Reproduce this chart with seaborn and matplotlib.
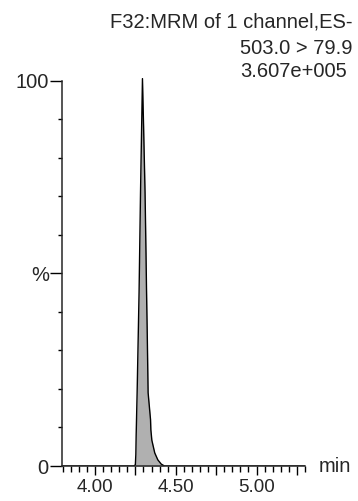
import numpy as np
import pandas as pd
import matplotlib
matplotlib.use("Agg")
import matplotlib.pyplot as plt
import seaborn as sns
from matplotlib.ticker import MultipleLocator, FixedLocator, FixedFormatter

# chromatogram trace (time in min, intensity in %)
times = [3.80, 4.240, 4.250, 4.253, 4.255, 4.261, 4.273, 4.282, 4.294,
         4.301, 4.310, 4.316, 4.319, 4.323, 4.329, 4.344, 4.346, 4.352,
         4.370, 4.389, 4.410, 4.430, 5.30]
intensity = [0, 0, 0.3, 3, 8, 19, 45, 71, 100.5,
             88, 71, 55, 46, 36, 19, 12, 9.4, 6.7,
             3.4, 1.6, 0.5, 0, 0]

header_lines = ["F32:MRM of 1 channel,ES-", "503.0 > 79.9", "3.607e+005"]
y_tick_pos = [0, 50, 100]
y_tick_text = ["0", "%", "100"]
y_minor_pos = [10, 20, 30, 40, 60, 70, 80, 90]
x_tick_pos = [4.00, 4.25, 4.50, 4.75, 5.00, 5.25]
x_tick_text = ["4.00", "", "4.50", "", "5.00", ""]

sns.set_style("ticks")
plt.rcParams["font.family"] = ["Liberation Sans", "DejaVu Sans"]

df = pd.DataFrame({"time": times, "intensity": intensity})

fig = plt.figure(figsize=(3.58, 5.01), dpi=100)
ax = fig.add_axes([62 / 358, 35 / 501, (305 - 62) / 358, (466 - 42) / 501])

ax.fill_between(df["time"], df["intensity"], 0, color="#b0b0b0", lw=0)
sns.lineplot(data=df, x="time", y="intensity", ax=ax, color="black",
             lw=1.0, sort=False, estimator=None)

ax.set_xlim(3.796, 5.30)
ax.set_ylim(0, 110)
ax.set_xlabel("")
ax.set_ylabel("")

for side in ["top", "right"]:
    ax.spines[side].set_visible(False)
ax.spines["left"].set_bounds(0, 100)
ax.spines["left"].set_linewidth(1.1)
ax.spines["bottom"].set_linewidth(1.1)

ax.yaxis.set_major_locator(FixedLocator(y_tick_pos))
ax.yaxis.set_major_formatter(FixedFormatter(y_tick_text))
ax.yaxis.set_minor_locator(FixedLocator(y_minor_pos))
ax.xaxis.set_major_locator(FixedLocator(x_tick_pos))
ax.xaxis.set_major_formatter(FixedFormatter(x_tick_text))
ax.xaxis.set_minor_locator(MultipleLocator(0.05))

fs = 14.5
ax.tick_params(axis="y", which="major", length=8.5, width=1.0, pad=1,
               labelsize=fs, color="black")
ax.tick_params(axis="y", which="minor", length=3, width=1.0, color="black")
ax.tick_params(axis="x", which="major", length=6.5, width=1.0, pad=2.5,
               labelsize=13.5, color="black")
ax.tick_params(axis="x", which="minor", length=4, width=1.0, color="black")

ax.annotate("min", xy=(1, 0), xycoords="axes fraction", xytext=(9.5, 0),
            textcoords="offset points", va="center", ha="left", fontsize=fs)

# header block, right aligned
fig.text(352 / 358, 1 - 21.5 / 501, header_lines[0], ha="right", va="center",
         fontsize=fs)
fig.text(352 / 358, 1 - 48.5 / 501, header_lines[1], ha="right", va="center",
         fontsize=fs)
fig.text(347 / 358, 1 - 71.5 / 501, header_lines[2], ha="right", va="center",
         fontsize=fs)

fig.savefig("out.png", dpi=100)
